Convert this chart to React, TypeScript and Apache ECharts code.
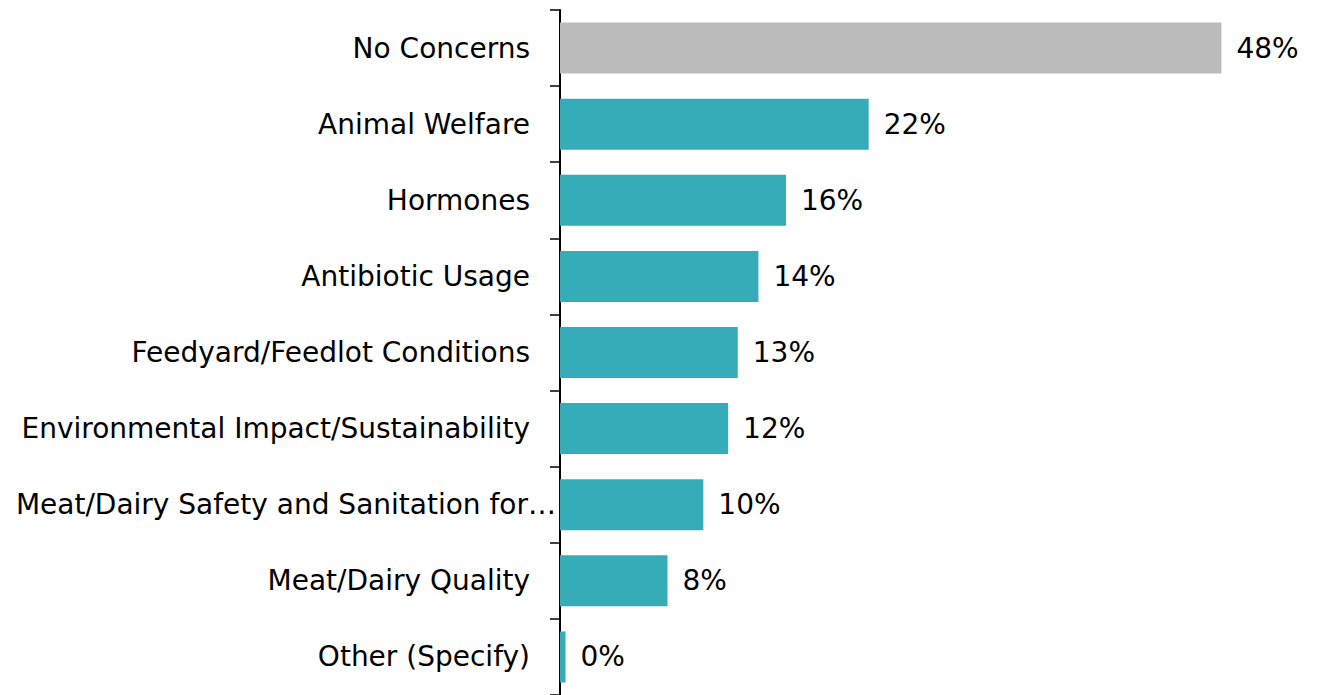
import React, { useEffect, useRef } from "react";
import * as echarts from "echarts";

const categories = [
  "No Concerns",
  "Animal Welfare",
  "Hormones",
  "Antibiotic Usage",
  "Feedyard/Feedlot Conditions",
  "Environmental Impact/Sustainability",
  "Meat/Dairy Safety and Sanitation for…",
  "Meat/Dairy Quality",
  "Other (Specify)",
];
const values = [48.0, 22.4, 16.4, 14.4, 12.9, 12.2, 10.4, 7.8, 0.4];
const barColors = ["#BBBBBB", "#35ACB7", "#35ACB7", "#35ACB7", "#35ACB7", "#35ACB7", "#35ACB7", "#35ACB7", "#35ACB7"];

const FONT = 'Tahoma, "DejaVu Sans", sans-serif';

export default function App() {
  const ref = useRef<HTMLDivElement>(null);
  useEffect(() => {
    if (!ref.current) return;
    const chart = echarts.init(ref.current, null, { renderer: "svg" });
    chart.setOption({
      animation: false,
      grid: { left: 560, top: 10, width: 689, height: 688.5, containLabel: false },
      xAxis: {
        type: "value",
        min: 0,
        max: 50,
        show: false,
      },
      yAxis: {
        type: "category",
        inverse: true,
        data: categories.map((c, i) =>
          i === 6 ? { value: c, textStyle: { padding: [0, -26, 0, 0] } } : c
        ),
        axisLine: { show: true, lineStyle: { color: "#000", width: 2 } },
        axisTick: { show: true, length: 10, lineStyle: { color: "#000", width: 1.5 } },
        axisLabel: { margin: 30, color: "#000", fontSize: 28, fontFamily: FONT },
      },
      series: [
        {
          type: "bar",
          data: values.map((v, i) => ({ value: v, itemStyle: { color: barColors[i] } })),
          barCategoryGap: "33%",
          label: {
            show: true,
            position: "right",
            distance: 15,
            color: "#000",
            fontSize: 28,
            fontFamily: FONT,
            formatter: (p: any) => Math.round(p.value) + "%",
          },
        },
      ],
    });
    return () => chart.dispose();
  }, []);
  return (
    <div
      ref={ref}
      style={{ position: "absolute", left: 0, top: 0, width: 1326, height: 695 }}
    />
  );
}
